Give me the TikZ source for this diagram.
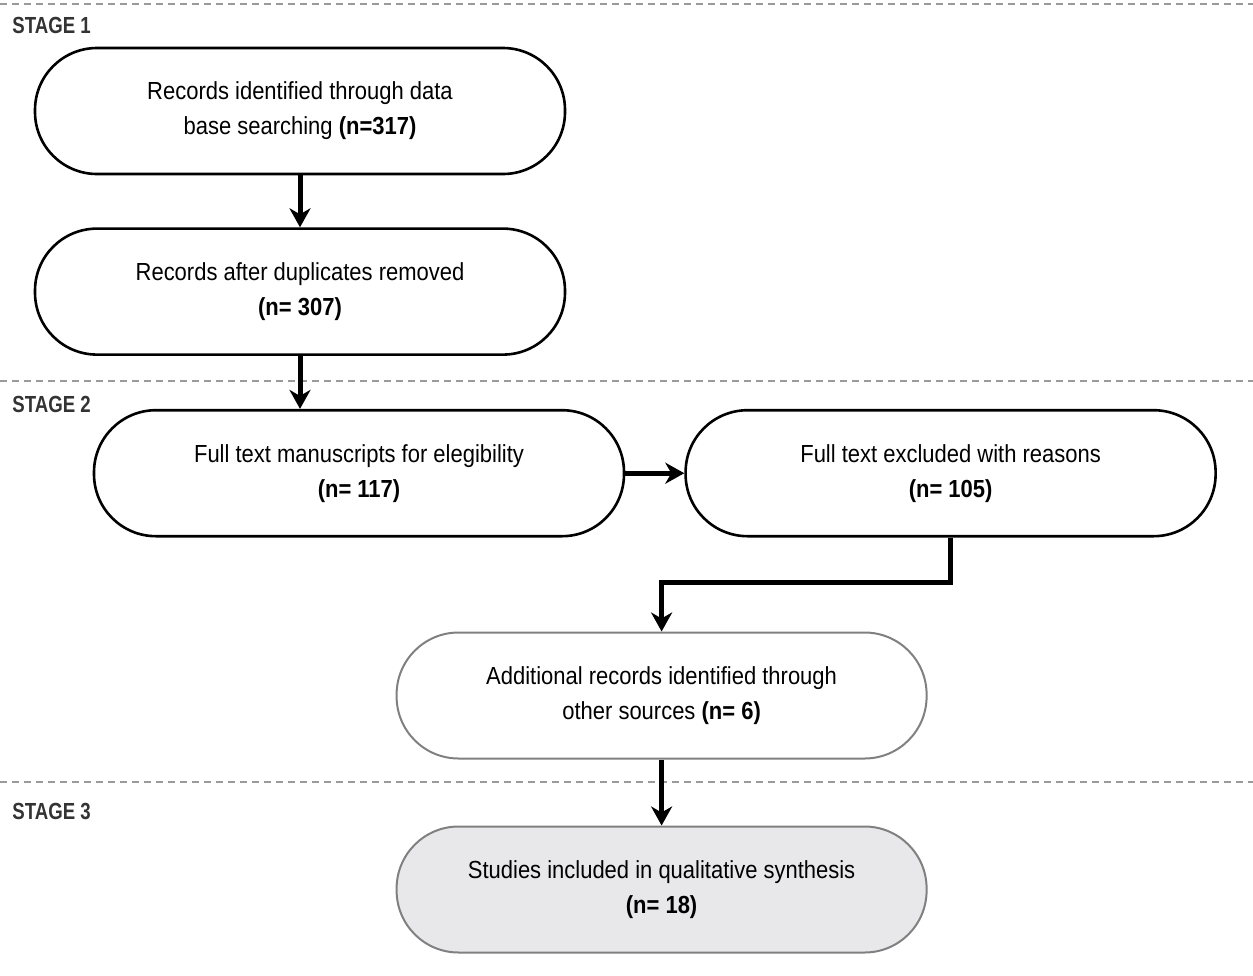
\documentclass[tikz,border=0pt]{standalone}
\usepackage{fontspec}
\setmainfont{Liberation Sans}[FakeStretch=0.89]
\newfontfamily\stagefont{Liberation Sans}[FakeStretch=0.8]
\usetikzlibrary{arrows.meta, positioning}
\definecolor{dashgray}{HTML}{9A9A9A}
\definecolor{boxgray}{HTML}{808080}
\definecolor{lightfill}{HTML}{E8E8EA}
\definecolor{stagegray}{HTML}{333333}

\begin{document}
\begin{tikzpicture}[
        x=0.5pt, y=-0.5pt,
        node distance=26pt,
        stadium/.style={rectangle, draw, line width=1.3pt, rounded corners=31pt, minimum width=265pt, minimum height=63pt, align=center, inner sep=0pt, font=\fontsize{12.35pt}{17.5pt}\selectfont},
        softstadium/.style={stadium, draw=boxgray, line width=1pt},
        line/.style={draw, line width=2.5pt, -{Stealth[length=9.5pt, width=10.5pt, inset=3pt]}},
        divider/.style={draw=dashgray, line width=1pt, dash pattern=on 3.5pt off 2.5pt},
        stagelabel/.style={anchor=base west, inner sep=0pt, text=stagegray, font=\stagefont\bfseries\fontsize{11.65pt}{14pt}\selectfont}
    ]
        \useasboundingbox (0,0) rectangle (1253,975);

        % Stage dividers
        \draw [divider] (0,4) -- (1253,4);
        \draw [divider] (0,381) -- (1253,381);
        \draw [divider] (0,782) -- (1253,782);

        \node [stagelabel] (stage1) at (12,33) {STAGE 1};
        \node [stagelabel] (stage2) at (12,412) {STAGE 2};
        \node [stagelabel] (stage3) at (12,819) {STAGE 3};

        % Stage 1
        \node [stadium] (records) at (300,111) {Records identified through data\\ base searching \textbf{(n=317)}};
        \node [stadium, below=of records] (dedup) {Records after duplicates removed\\ \textbf{(n= 307)}};

        \path [line] (records) -- (dedup);

        % Stage 2
        \node [stadium, below=26.5pt of dedup, xshift=29.5pt] (fulltext) {Full text manuscripts for elegibility\\ \textbf{(n= 117)}};
        \node [stadium, right=29.5pt of fulltext] (excluded) {Full text excluded with reasons\\ \textbf{(n= 105)}};
        \node [softstadium, below=47pt of excluded, xshift=-144.5pt] (additional) {Additional records identified through\\ other sources \textbf{(n= 6)}};

        \path [line] (dedup.south) -- (dedup.south |- fulltext.north);
        \path [line] (fulltext) -- (excluded);
        \path [line] (excluded.south) -- ++(0,-22.5pt) -| (additional.north);

        % Stage 3
        \node [softstadium, fill=lightfill, below=33pt of additional] (included) {Studies included in qualitative synthesis\\ \textbf{(n= 18)}};

        \path [line] (additional) -- (included);

    \end{tikzpicture}
\end{document}
